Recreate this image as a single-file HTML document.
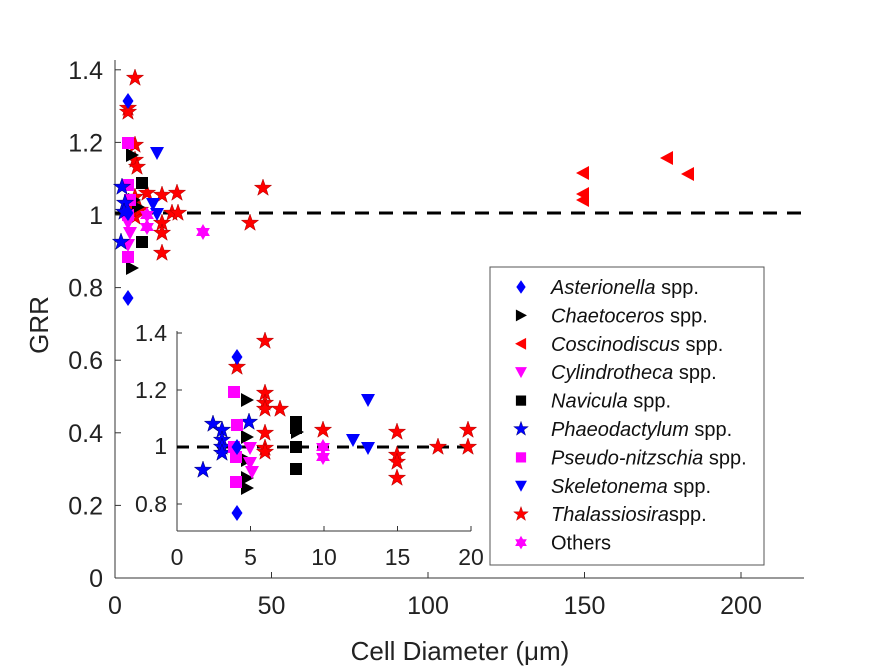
<!DOCTYPE html>
<html><head><meta charset="utf-8"><style>
body{margin:0;background:#fff;}
svg{display:block;font-family:"Liberation Sans",sans-serif;}
</style></head><body>
<svg id="s" width="888" height="666" viewBox="0 0 888 666" xmlns="http://www.w3.org/2000/svg">
<defs>
<symbol id="star" viewBox="-10 -10 20 20" overflow="visible"><polygon points="0,-9 2.1,-2.9 8.6,-2.8 3.4,1.1 5.3,7.3 0,3.6 -5.3,7.3 -3.4,1.1 -8.6,-2.8 -2.1,-2.9"/></symbol>
<symbol id="hex" viewBox="-10 -10 20 20" overflow="visible"><polygon points="0,-8 2.3,-4 6.9,-4 4.6,0 6.9,4 2.3,4 0,8 -2.3,4 -6.9,4 -4.6,0 -6.9,-4 -2.3,-4"/></symbol>
</defs>
</svg>
<script>
const s=document.getElementById('s'),NS='http://www.w3.org/2000/svg';
function el(t,a,txt,p){const e=document.createElementNS(NS,t);for(const k in a)e.setAttribute(k,a[k]);if(txt!=null)e.textContent=txt;(p||s).appendChild(e);return e;}
const C={r:'#f00',b:'#00f',k:'#000',m:'#f0f'};
function mk(type,x,y,col,sz){sz=sz||1;const h=6*sz;let p;
 if(type=='star'){el('use',{href:'#star',x:x-10*sz,y:y-10*sz,width:20*sz,height:20*sz,fill:col,stroke:col==C.r?'#a00':'#006','stroke-width':0.5});return;}
 if(type=='hex'){el('use',{href:'#hex',x:x-10*sz,y:y-10*sz,width:20*sz,height:20*sz,fill:col});return;}
 if(type=='dia')p=`${x},${y-8*sz} ${x+5.5*sz},${y} ${x},${y+8*sz} ${x-5.5*sz},${y}`;
 if(type=='sq')p=`${x-h},${y-h} ${x+h},${y-h} ${x+h},${y+h} ${x-h},${y+h}`;
 if(type=='rt')p=`${x-6*sz},${y-7*sz} ${x+7*sz},${y} ${x-6*sz},${y+7*sz}`;
 if(type=='lt')p=`${x+6*sz},${y-7*sz} ${x-7*sz},${y} ${x+6*sz},${y+7*sz}`;
 if(type=='dn')p=`${x-7*sz},${y-6*sz} ${x+7*sz},${y-6*sz} ${x},${y+7*sz}`;
 el('polygon',{points:p,fill:col});}
el('line',{x1:115,y1:60,x2:115,y2:578,stroke:'#333','stroke-width':1});
el('line',{x1:115,y1:578,x2:804,y2:578,stroke:'#333','stroke-width':1});
for(let i=0;i<=7;i++){const y=578-i*72.6;el('line',{x1:115,y1:y,x2:121,y2:y,stroke:'#333'});
 el('text',{x:103,y:y+9,'font-size':25,'text-anchor':'end',fill:'#222'},i==0?'0':i==5?'1':(i*0.2).toFixed(1));}
for(let i=0;i<=4;i++){const x=115+i*156.5;el('line',{x1:x,y1:578,x2:x,y2:572,stroke:'#333'});
 el('text',{x:x,y:614,'font-size':25,'text-anchor':'middle',fill:'#222'},String(i*50));}
el('line',{x1:115,y1:213,x2:804,y2:213,stroke:'#000','stroke-width':3,'stroke-dasharray':'14,10'});
el('text',{x:0,y:0,'font-size':26,'text-anchor':'middle',fill:'#222',transform:'translate(48,325) rotate(-90)'},'GRR');
el('text',{x:460,y:660,'font-size':26,'text-anchor':'middle',fill:'#222'},'Cell Diameter (\u03BCm)');
[[135,78],[128,108],[128,112],[135,145],[135,160],[137,167],[147,193],[162,195],[177,193],[263,188],[250,223],[172,213],[178,213],[162,223],[162,233],[162,253],[135,197],[135,217],[140,210],[130,205]].forEach(p=>mk('star',p[0],p[1],C.r));
[[583,173],[583,194],[583,200],[667,158],[688,174]].forEach(p=>mk('lt',p[0],p[1],C.r));
[[157,153],[153,204],[157,214]].forEach(p=>mk('dn',p[0],p[1],C.b));
[[142,183],[142,242]].forEach(p=>mk('sq',p[0],p[1],C.k));
[[132,155],[132,268],[138,207],[134,200]].forEach(p=>mk('rt',p[0],p[1],C.k));
[[128,143],[128,185],[128,257],[128,215],[130,200]].forEach(p=>mk('sq',p[0],p[1],C.m));
[[128,223],[130,233],[128,245]].forEach(p=>mk('dn',p[0],p[1],C.m));
[[147,215],[147,227],[203,232]].forEach(p=>mk('hex',p[0],p[1],C.m));
[[122,187],[121,242],[125,203],[124,212]].forEach(p=>mk('star',p[0],p[1],C.b));
[[128,101],[128,213],[128,298]].forEach(p=>mk('dia',p[0],p[1],C.b));
el('rect',{x:177,y:320,width:294,height:211,fill:'#fff'});
el('line',{x1:177,y1:331,x2:177,y2:531,stroke:'#333'});
el('line',{x1:177,y1:531,x2:471,y2:531,stroke:'#333'});
[[1.4,333],[1.2,390],[1,446],[0.8,504]].forEach(t=>{el('line',{x1:177,y1:t[1],x2:182,y2:t[1],stroke:'#333'});
 el('text',{x:167,y:t[1]+8,'font-size':23,'text-anchor':'end',fill:'#222'},t[0]==1?'1':t[0].toFixed(1));});
for(let i=0;i<=4;i++){const x=177+i*73.5;el('line',{x1:x,y1:531,x2:x,y2:526,stroke:'#333'});
 el('text',{x:x,y:565,'font-size':23,'text-anchor':'middle',fill:'#222'},String(i*5));}
el('line',{x1:177,y1:447,x2:471,y2:447,stroke:'#000','stroke-width':3,'stroke-dasharray':'12,8'});
[[265,341],[237,367],[265,393],[265,403],[265,409],[280,409],[265,433],[265,448],[265,452],[323,430],[397,432],[397,455],[397,462],[397,478],[438,447],[468,430],[468,447]].forEach(p=>mk('star',p[0],p[1],C.r));
[[213,424],[222,430],[222,440],[222,447],[222,453],[203,470],[249,422]].forEach(p=>mk('star',p[0],p[1],C.b));
[[368,400],[353,440],[368,448]].forEach(p=>mk('dn',p[0],p[1],C.b));
[[296,422],[296,428],[296,447],[296,469]].forEach(p=>mk('sq',p[0],p[1],C.k));
[[247,400],[247,437],[247,460],[247,488],[247,478],[297,432]].forEach(p=>mk('rt',p[0],p[1],C.k));
[[234,392],[237,425],[234,447],[236,457],[236,482]].forEach(p=>mk('sq',p[0],p[1],C.m));
[[250,448],[250,463],[252,472]].forEach(p=>mk('dn',p[0],p[1],C.m));
[[323,447],[323,457]].forEach(p=>mk('hex',p[0],p[1],C.m));
[[237,357],[237,447],[237,513]].forEach(p=>mk('dia',p[0],p[1],C.b));
el('rect',{x:490,y:267,width:274,height:298,fill:'#fff',stroke:'#555'});
const L=[['dia',C.b,'Asterionella',' spp.'],['rt',C.k,'Chaetoceros',' spp.'],['lt',C.r,'Coscinodiscus','  spp.'],['dn',C.m,'Cylindrotheca',' spp.'],['sq',C.k,'Navicula',' spp.'],['star',C.b,'Phaeodactylum',' spp.'],['sq',C.m,'Pseudo-nitzschia',' spp.'],['dn',C.b,'Skeletonema',' spp.'],['star',C.r,'Thalassiosira','spp.'],['hex',C.m,'','Others']];
L.forEach((l,i)=>{const y=287+i*28.4;mk(l[0],521,y,l[1],0.85);
 const t=el('text',{x:551,y:y+7,'font-size':20,fill:'#111','xml:space':'preserve'});
 if(l[2])el('tspan',{'font-style':'italic'},l[2],t);el('tspan',{},l[3],t);});
</script>
</body></html>
